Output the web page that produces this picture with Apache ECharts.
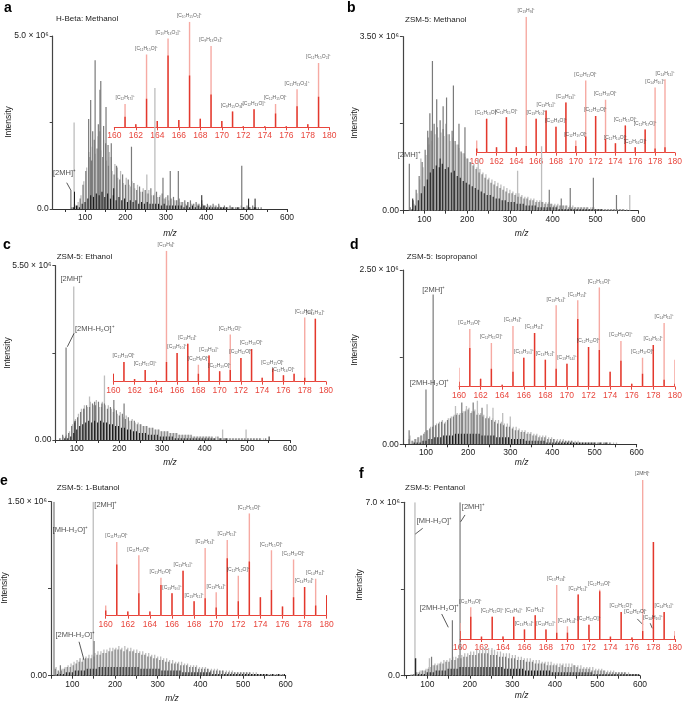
<!DOCTYPE html>
<html><head><meta charset="utf-8">
<script src="https://cdn.jsdelivr.net/npm/echarts@6/dist/echarts.min.js"></script>
<style>html,body{margin:0;padding:0;background:#fff}#c{width:685px;height:703px}</style>
</head><body><div id="c"></div>
<script>
// ---- shared m/z grids for the dense envelopes ----
const G1 = [60,67,74,81,88,95,102,109,116,123,130,137,144,151,158,165,172,179,186,193,200,207,214,221,228,235,242,249,256,263,270,277,284,291,298,305,312,319,326,333,340,347,354,361,368,375,382,389,396,403,410,417,424,431,438,445,452,459,466,473,480,487,494,501,508,515,522,529,536,543,550,557,564,571,578,585,592];
const G2 = [62,69,76,83,90,97,104,111,118,125,132,139,146,153,160,167,174,181,188,195,202,209,216,223,230,237,244,251,258,265,272,279,286,293,300,307,314,321,328,335,342,349,356,363,370,377,384,391,398,405,412,419,426,433,440,447,454,461,468,475,482,489,496,503,510,517,524,531,538,545,552,559,566,573,580,587,594];
const G3 = [65,72,79,86,93,100,107,114,121,128,135,142,149,156,163,170,177,184,191,198,205,212,219,226,233,240,247,254,261,268,275,282,289,296,303,310,317,324,331,338,345,352,359,366,373,380,387,394,401,408,415,422,429,436,443,450,457,464,471,478,485,492,499,506,513,520,527,534,541,548,555,562,569,576,583,590,597];
const insetMz = [160,161,162,163,164,165,166,167,168,169,170,171,172,173,174,175,176,177,178,179,180];
const mainTicks = [50,100,150,200,250,300,350,400,450,500,550,600];
const mainLabels = [100,200,300,400,500,600];

// ---- panel a: H-Beta Methanol (intensity in % of axis max) ----
const aMid   = [0,1,3,2,6,14,22,33,28,40, 35,45,30,38,25,30,20,24,17,20, 14,17,13,15,11,13,10,11,9,12, 8,10,7,9,6,8,6,7,5,6, 4,5,4,5,3,4,3,5,2,3, 2,3,2,3,1,2,1,2,1,1, 1,2,1,2,1,2,1,1,1,0, 0,0,0,0,0,0,0];
const aLight = [0,1,2,4,8,16,24,30,36,32, 42,34,40,28,33,22,26,18,22,15, 18,14,16,12,14,10,12,9,11,8, 9,7,8,6,7,5,6,5,5,4, 4,3,4,3,3,3,2,3,2,2, 2,2,1,2,1,1,1,1,1,1, 1,1,1,1,1,1,1,0,0,0, 0,0,0,0,0,0,0];
const aBlack = [0,1,2,1,3,4,6,8,7,9, 8,10,7,9,6,8,5,7,5,6, 4,5,4,5,3,4,3,4,3,3, 3,3,2,3,2,2,2,2,2,2, 1,2,1,2,1,2,1,2,1,1, 1,1,1,1,1,1,0,1,0,1, 0,1,0,1,0,1,0,0,0,0, 0,0,0,0,0,0,0];
const aPeaksMid   = [[65,11],[109,52],[114,63],[119,45],[125,86],[133,49],[137,69],[139,74],[146,48],[152,59],[157,37],[165,38],[178,25],[215,36],[293,18],[311,22],[331,22],[488,25]];
const aPeaksLight = [[73,50],[113,30],[160,30],[253,20],[273,70]];
const aPeaksBlack = [[74,10],[171,12],[389,8],[505,6],[521,6]];
const aInsetLight = [0,22,3,69,6,84,7,100,8,77,6,15,1,17,1,22,1,36,3,61,0];
const aInsetDark  = [0,10,3,27,6,68,7,49,8,31,6,15,1,17,1,13,1,20,3,29,0];
const aInsetLabels = [[161,'[C₁₂H₁₇]⁺'],[163,'[C₁₁H₁₅O]⁺'],[165,'[C₁₀H₁₃O₂]⁺'],[167,'[C₁₀H₁₅O₂]⁺'],[169,'[C₉H₁₃O₃]⁺'],[171,'[C₉H₁₅O₃]⁺'],[173,'[C₁₂H₁₃O]⁺'],[175,'[C₁₂H₁₅O]⁺'],[177,'[C₁₁H₁₃O₂]⁺'],[179,'[C₁₁H₁₅O₂]⁺']];
const aNotes  = [[50.5,20.4,'[2MH]⁺']];
const aArrows = [[54.7,15.2,64.6,11]];

// ---- panel b: ZSM-5 Methanol ----
const bMid   = [0,2,6,12,20,28,35,42,46,50, 48,52,47,50,44,46,40,38,34,33, 30,28,26,24,22,21,19,18,16,15, 14,13,12,11,10,10,9,8,8,7, 7,6,6,5,5,5,4,4,4,3, 3,3,3,3,2,2,2,2,2,2, 2,1,2,1,1,1,1,1,1,1, 1,1,1,0,0,0,0];
const bLight = [0,1,4,10,18,25,32,38,40,44, 42,45,43,44,40,42,38,36,33,31, 30,28,27,25,24,22,21,19,18,17, 16,15,14,13,12,11,10,10,9,8, 8,7,7,6,6,5,5,5,4,4, 4,3,3,3,3,3,2,2,2,2, 2,2,2,1,1,1,1,1,1,1, 1,1,1,1,0,0,0];
const bBlack = [0,1,3,6,10,14,18,22,24,26, 25,27,24,25,22,23,20,19,17,16, 15,14,13,12,11,10,9,9,8,7, 7,6,6,5,5,5,4,4,4,3, 3,3,3,2,2,2,2,2,2,2, 1,1,1,1,1,1,1,1,1,1, 1,1,1,1,1,0,0,0,0,0, 0,0,0,0,0,0,0];
const bPeaksMid   = [[65,27],[108,46],[113,56],[119,86],[129,64],[144,60],[152,65],[168,72],[181,50],[195,48],[392,12],[420,7],[441,13],[495,19],[549,9]];
const bPeaksLight = [[92,30],[226,30],[318,23],[374,37],[580,9]];
const bPeaksBlack = [[73,7],[137,30]];
const bInsetLight = [9,25,4,26,4,100,25,31,19,37,9,53,27,39,7,20,4,17,48,54,0];
const bInsetDark  = [3,25,4,26,4,5,25,31,19,37,5,12,27,10,7,20,4,17,3,4,0];
const bInsetLabels = [[161,'[C₁₁H₁₃O]⁺'],[163,'[C₁₁H₁₅O]⁺'],[165,'[C₁₃H₉]⁺'],[166,'[C₁₃H₁₀]⁺'],[167,'[C₁₃H₁₁]⁺'],[168,'[C₁₂H₈O]⁺'],[169,'[C₁₃H₁₃]⁺'],[170,'[C₁₂H₁₀O]⁺'],[171,'[C₁₂H₁₁O]⁺'],[172,'[C₁₂H₁₂O]⁺'],[173,'[C₁₂H₁₃O]⁺'],[174,'[C₁₂H₁₄O]⁺'],[175,'[C₁₂H₁₅O]⁺'],[176,'[C₁₂H₁₆O]⁺'],[177,'[C₁₂H₁₇O]⁺'],[178,'[C₁₄H₁₀]⁺'],[179,'[C₁₄H₁₁]⁺']];
const bNotes  = [[66,32,'[2MH]⁺']];
const bArrows = [];

// ---- panel c: ZSM-5 Ethanol ----
const cMid   = [1,3,2,4,8,10,13,16,18,20, 19,21,20,22,19,21,18,19,16,17, 14,15,12,13,11,11,9,9,8,8, 7,7,6,6,5,5,5,4,4,4, 3,3,3,3,3,2,2,2,2,2, 2,2,1,2,1,1,1,1,1,1, 1,1,1,1,1,1,1,1,0,1, 0,0,0,0,0,0,0];
const cLight = [1,2,3,5,9,12,15,18,20,19, 22,20,23,19,22,20,20,18,18,15, 16,13,14,11,12,10,10,9,8,8, 7,7,6,6,5,5,5,4,4,4, 3,3,3,3,2,2,2,2,2,2, 2,1,2,1,1,1,1,1,1,1, 1,1,1,1,1,1,1,1,1,0, 0,0,0,0,0,0,0];
const cBlack = [0,1,1,2,4,6,8,9,10,11, 10,11,10,11,10,10,9,9,8,8, 7,7,6,6,5,5,4,4,4,3, 3,3,3,2,2,2,2,2,1,1, 1,1,1,1,1,1,1,1,1,1, 1,1,0,1,0,1,0,0,0,0, 0,0,0,0,0,0,0,0,0,0, 0,0,0,0,0,0,0];
const cPeaksMid   = [[75,53],[117,18],[142,22],[159,21],[187,23],[211,21]];
const cPeaksLight = [[93,88],[130,25],[165,37],[442,6],[497,6]];
const cPeaksBlack = [[96,11],[551,2]];
const cInsetLight = [6,15,2,9,1,100,22,29,13,20,8,36,18,25,3,10,5,6,49,48,0];
const cInsetDark  = [6,15,2,9,1,15,22,29,6,20,8,9,18,25,3,10,5,6,3,48,0];
const cInsetLabels = [[161,'[C₁₁H₁₃O]⁺'],[163,'[C₁₁H₁₅O]⁺'],[165,'[C₁₃H₉]⁺'],[166,'[C₁₃H₁₀]⁺'],[167,'[C₁₃H₁₁]⁺'],[168,'[C₁₂H₈O]⁺'],[169,'[C₁₃H₁₃]⁺'],[170,'[C₁₂H₁₀O]⁺'],[171,'[C₁₂H₁₁O]⁺'],[172,'[C₁₂H₁₂O]⁺'],[173,'[C₁₂H₁₃O]⁺'],[175,'[C₁₂H₁₅O]⁺'],[176,'[C₁₂H₁₆O]⁺'],[178,'[C₁₄H₁₀]⁺'],[179,'[C₁₄H₁₁]⁺']];
const cNotes  = [[90,92,'[2MH]⁺'],[143.6,63.7,'[2MH-H₂O]⁺']];
const cArrows = [[93.7,61.2,78,53.5]];

// ---- panel d: ZSM-5 Isopropanol ----
const dMid   = [3,2,3,4,5,6,8,9,10,11, 12,13,12,14,15,16,17,17,18,19, 20,18,19,17,17,16,15,15,14,13, 12,12,11,10,10,9,8,8,7,7, 6,6,5,5,4,4,4,3,3,3, 2,2,2,2,2,2,1,1,1,1, 1,1,1,1,1,1,1,1,1,0, 0,0,0,0,0,0,0];
const dLight = [5,2,3,4,5,7,8,10,11,12, 13,14,13,15,16,17,18,18,19,20, 21,19,20,18,18,17,16,16,15,14, 14,13,12,12,11,10,10,9,8,8, 7,7,6,6,5,5,5,4,4,3, 3,3,3,2,2,2,2,2,1,1, 1,1,1,1,1,1,1,1,1,1, 1,0,0,0,0,0,0];
const dBlack = [0,1,1,1,2,2,3,3,4,4, 4,5,5,5,5,6,6,6,6,6, 6,6,6,6,5,5,5,5,5,4, 4,4,4,4,3,3,3,3,3,2, 2,2,2,2,2,2,1,1,1,1, 1,1,1,1,1,1,1,1,1,1, 1,1,1,0,1,0,1,0,0,0, 0,0,0,0,0,0,0];
const dPeaksMid   = [[60,8],[100,31.5],[117,86],[185,24],[212,24],[233,21]];
const dPeaksLight = [[170,22],[196,22],[222,25],[245,23],[259,21],[282,18],[300,16]];
const dPeaksBlack = [];
const dInsetLight = [19,58,8,44,2,61,29,54,27,82,23,87,40,100,15,46,3,29,42,64,27];
const dInsetDark  = [5,39,8,18,2,15,29,54,27,18,23,68,40,37,15,26,3,13,42,7,3];
const dInsetLabels = [[161,'[C₁₁H₁₃O]⁺'],[163,'[C₁₁H₁₅O]⁺'],[165,'[C₁₃H₉]⁺'],[166,'[C₁₃H₁₀]⁺'],[167,'[C₁₃H₁₁]⁺'],[168,'[C₁₃H₁₂]⁺'],[169,'[C₁₃H₁₃]⁺'],[170,'[C₁₃H₁₄]⁺'],[171,'[C₁₃H₁₅]⁺'],[172,'[C₁₂H₁₂O]⁺'],[173,'[C₁₂H₁₃O]⁺'],[175,'[C₁₂H₁₅O]⁺'],[177,'[C₁₂H₁₇O]⁺'],[178,'[C₁₄H₁₀]⁺'],[179,'[C₁₄H₁₁]⁺']];
const dNotes  = [[119.7,88.1,'[2MH]⁺'],[109.5,35,'[2MH-H₂O]⁺']];
const dArrows = [];

// ---- panel e: ZSM-5 1-Butanol ----
const eMid   = [4,3,3,4,5,5,6,7,8,8, 9,10,10,11,12,12,13,13,14,14, 15,15,15,14,15,14,14,13,13,12, 12,11,11,10,10,9,9,8,8,7, 7,7,6,6,6,5,5,5,4,4, 4,4,3,3,3,3,3,2,2,2, 2,2,2,2,2,2,1,1,1,1, 1,1,1,1,1,1,1];
const eLight = [5,2,4,5,6,7,8,9,10,10, 11,12,12,13,14,14,15,15,16,16, 16,17,16,17,16,16,15,15,14,14, 13,13,12,12,11,11,10,10,9,9, 8,8,8,7,7,6,6,6,5,5, 5,4,4,4,4,3,3,3,3,3, 2,2,2,2,2,2,2,2,1,1, 1,1,1,1,1,1,1];
const eBlack = [1,1,1,2,2,2,3,3,3,3, 4,4,4,4,5,5,5,5,5,5, 5,5,5,5,5,5,5,5,4,4, 4,4,4,4,4,3,3,3,3,3, 3,3,2,2,2,2,2,2,2,2, 2,2,1,1,1,1,1,1,1,1, 1,1,1,1,1,1,1,1,1,1, 1,0,1,0,1,0,1];
const ePeaksMid   = [[57,100],[72,6],[131,10],[151,20]];
const ePeaksLight = [[118,10],[149,100]];
const ePeaksBlack = [];
const eInsetLight = [10,72,4,59,4,37,22,44,14,66,23,74,39,100,18,64,9,55,28,36,20];
const eInsetDark  = [5,50,4,22,4,30,22,44,14,17,8,56,14,53,18,25,9,18,28,10,20];
const eInsetLabels = [[161,'[C₁₁H₁₃O]⁺'],[163,'[C₁₁H₁₅O]⁺'],[165,'[C₁₁H₁₇O]⁺'],[166,'[C₁₃H₁₀]⁺'],[167,'[C₁₃H₁₁]⁺'],[168,'[C₁₃H₁₂]⁺'],[169,'[C₁₃H₁₃]⁺'],[170,'[C₁₃H₁₄]⁺'],[171,'[C₁₃H₁₅]⁺'],[172,'[C₁₂H₁₂O]⁺'],[173,'[C₁₂H₁₃O]⁺'],[175,'[C₁₂H₁₅O]⁺'],[177,'[C₁₂H₁₇O]⁺'],[178,'[C₁₄H₁₀]⁺'],[179,'[C₁₄H₁₁]⁺']];
const eNotes  = [[96.5,83.7,'[MH-H₂O]⁺'],[179.7,97.7,'[2MH]⁺'],[108,23,'[2MH-H₂O]⁺']];
const eArrows = [[115.7,19.5,127.4,9]];

// ---- panel f: ZSM-5 Pentanol ----
const fMid   = [0,1,2,2,3,3,4,5,6,6, 7,7,8,8,9,9,10,10,11,11, 12,12,12,13,13,13,13,12,12,12, 11,11,11,10,10,10,9,9,9,8, 8,8,7,7,7,7,6,6,6,6, 5,6,5,5,5,6,5,4,4,4, 4,3,3,3,3,3,2,2,2,2, 2,2,2,1,1,1,1];
const fLight = [1,1,2,3,3,4,5,6,7,7, 8,9,9,10,11,11,12,12,13,13, 14,14,15,15,16,15,16,15,15,14, 14,13,13,13,12,12,11,11,10,10, 10,9,9,9,8,8,8,8,7,7, 7,7,7,7,7,6,6,6,5,5, 5,5,4,4,4,3,3,3,3,2, 2,2,2,2,1,1,1];
const fBlack = [0,1,1,1,1,2,2,2,3,3, 3,3,4,4,4,4,5,5,5,5, 5,5,5,5,5,5,5,5,5,5, 5,4,4,4,4,4,4,4,3,3, 3,3,3,3,3,3,3,2,2,2, 2,2,2,2,2,2,2,2,2,2, 2,1,1,1,1,1,1,1,1,1, 1,1,1,1,1,1,1];
const fPeaksMid   = [[73,10],[110,11],[159,32],[177,100]];
const fPeaksLight = [[71,100],[105,10],[237,17],[252,16]];
const fPeaksBlack = [[72,10]];
const fInsetLight = [10,20,1.5,14,1.5,14,6,15,6,34,8,28,9,31,1.5,17,1,100,61,17,5];
const fInsetDark  = [5,14,1.5,14,1.5,14,6,15,6,4,4,28,9,30,1.5,17,1,5,61,17,2];
const fInsetLabels = [[161,'[C₁₁H₁₃O]⁺'],[163,'[C₁₁H₁₅O]⁺'],[165,'[C₁₃H₉]⁺'],[166,'[C₁₃H₁₀]⁺'],[167,'[C₁₃H₁₁]⁺'],[168,'[C₁₃H₁₂]⁺'],[169,'[C₁₃H₁₃]⁺'],[170,'[C₁₃H₁₄]⁺'],[171,'[C₁₃H₁₅]⁺'],[172,'[C₁₂H₁₂O]⁺'],[173,'[C₁₂H₁₃O]⁺'],[175,'[C₁₂H₁₅O]⁺'],[177,'[2MH]⁺'],[179,'[C₁₄H₁₁]⁺']];
const fInsetNotes  = [[176.4,17.2,'[C₁₂H₁₇O]⁺'],[178.0,13,'[C₁₄H₁₀]⁺']];
const fInsetArrows = [[176.5,12.6,177,9.2],[177.7,9.9,177.9,6.7]];
const fNotes  = [[118,89.2,'[MH-H₂O]⁺'],[209.3,97.1,'[2MH]⁺'],[129.9,38.9,'[2MH-H₂O]⁺']];
const fArrows = [[89.2,85,71.8,81.7],[188.6,92.7,178.5,88.8],[133.8,35.6,149.4,27.9]];

const titles = ['H-Beta: Methanol','ZSM-5: Methanol','ZSM-5: Ethanol','ZSM-5: Isopropanol','ZSM-5: 1-Butanol','ZSM-5: Pentanol'];
const yTopLabels = ['5.0 × 10⁶','3.50 × 10⁶','5.50 × 10⁶','2.50 × 10⁶','1.50 × 10⁶','7.0 × 10⁶'];
const yZeroLabels = ['0.0','0.00','0.00','0.00','0.00','0.0'];
const letters = ['a','b','c','d','e','f'];

// ---- layout (pixels) ----
const FONT = '"Liberation Sans", Arial, sans-serif';
const layout = [
  {main:{left:52.7,top:36,width:234.3,height:173,min:20}, inset:{left:114.3,top:21.7,width:215,height:105.6},
   letter:[4,8], title:[56,18.5], inten:[8.5,122], mz:[170,234]},
  {main:{left:402.9,top:36.7,width:235.4,height:174,min:50}, inset:{left:476.7,top:16.7,width:202.6,height:136},
   letter:[347,8], title:[405,19.5], inten:[355,123], mz:[521.7,234]},
  {main:{left:55.4,top:265.7,width:234.6,height:174.3,min:50}, inset:{left:113.3,top:250.7,width:212.7,height:131},
   letter:[3,245], title:[56.7,256.5], inten:[7.5,353], mz:[170,463]},
  {main:{left:402.8,top:270,width:233.9,height:174.3,min:45}, inset:{left:459,top:287.3,width:221,height:99.4},
   letter:[350,245], title:[406.7,257], inten:[355,350], mz:[521.7,463]},
  {main:{left:51,top:501.7,width:234.7,height:174,min:50}, inset:{left:105.7,top:513.3,width:221,height:102.4},
   letter:[0,481], title:[56.7,488], inten:[4.5,588], mz:[172,699]},
  {main:{left:403.9,top:502.3,width:236.1,height:173.4,min:45}, inset:{left:460,top:480,width:220,height:159},
   letter:[359,474], title:[405,488], inten:[360,585], mz:[521.7,696]}
];

const panelData = [
  {mid:aMid,light:aLight,black:aBlack,pm:aPeaksMid,pl:aPeaksLight,pb:aPeaksBlack,il:aInsetLight,id:aInsetDark,lab:aInsetLabels,notes:aNotes,arrows:aArrows,inotes:[],iarrows:[]},
  {mid:bMid,light:bLight,black:bBlack,pm:bPeaksMid,pl:bPeaksLight,pb:bPeaksBlack,il:bInsetLight,id:bInsetDark,lab:bInsetLabels,notes:bNotes,arrows:bArrows,inotes:[],iarrows:[]},
  {mid:cMid,light:cLight,black:cBlack,pm:cPeaksMid,pl:cPeaksLight,pb:cPeaksBlack,il:cInsetLight,id:cInsetDark,lab:cInsetLabels,notes:cNotes,arrows:cArrows,inotes:[],iarrows:[]},
  {mid:dMid,light:dLight,black:dBlack,pm:dPeaksMid,pl:dPeaksLight,pb:dPeaksBlack,il:dInsetLight,id:dInsetDark,lab:dInsetLabels,notes:dNotes,arrows:dArrows,inotes:[],iarrows:[]},
  {mid:eMid,light:eLight,black:eBlack,pm:ePeaksMid,pl:ePeaksLight,pb:ePeaksBlack,il:eInsetLight,id:eInsetDark,lab:eInsetLabels,notes:eNotes,arrows:eArrows,inotes:[],iarrows:[]},
  {mid:fMid,light:fLight,black:fBlack,pm:fPeaksMid,pl:fPeaksLight,pb:fPeaksBlack,il:fInsetLight,id:fInsetDark,lab:fInsetLabels,notes:fNotes,arrows:fArrows,inotes:fInsetNotes,iarrows:fInsetArrows}
];

const C_LIGHT = '#bdbdbd', C_MID = '#7a7a7a', C_BLACK = '#1c1c1c';
const C_PINK = '#f6aaa3', C_RED = '#e3382d', C_AX = '#e8453c';

const zip = (xs, ys) => xs.map((x, i) => [x, ys[i]]);

function spikes(data, ai, color, w, z) {
  return {
    type: 'custom', xAxisIndex: ai, yAxisIndex: ai, data: data, z: z, silent: true, clip: true,
    renderItem: function (p, api) {
      const a = api.coord([api.value(0), 0]);
      const b = api.coord([api.value(0), api.value(1)]);
      return {type: 'line', shape: {x1: a[0], y1: a[1], x2: b[0], y2: b[1]}, style: {stroke: color, lineWidth: w}};
    }
  };
}
function notes(list, arrows, ai, z, fs) {
  return {
    type: 'scatter', xAxisIndex: ai, yAxisIndex: ai, z: z, silent: true, symbolSize: 1,
    itemStyle: {color: 'rgba(0,0,0,0)'},
    data: list.map(n => ({value: [n[0], n[1]], name: n[2]})),
    label: {show: true, position: [0, 0], align: 'center', verticalAlign: 'middle', formatter: '{b}',
            fontSize: fs, color: '#222', fontFamily: FONT},
    labelLayout: {hideOverlap: false},
    markLine: {silent: true, symbol: ['none', 'arrow'], symbolSize: [0, 4], animation: false,
      lineStyle: {color: '#111', width: 0.7, type: 'solid'}, label: {show: false},
      data: arrows.map(a => [{coord: [a[0], a[1]]}, {coord: [a[2], a[3]]}])}
  };
}

const grids = [], xAxes = [], yAxes = [], series = [], graphics = [];
layout.forEach((L, k) => {
  const D = panelData[k];
  const mi = 2 * k, ii = 2 * k + 1;
  grids.push({left: L.main.left, top: L.main.top, width: L.main.width, height: L.main.height});
  grids.push({left: L.inset.left, top: L.inset.top, width: L.inset.width, height: L.inset.height});
  xAxes.push({gridIndex: mi, type: 'value', min: L.main.min, max: 600, splitLine: {show: false},
    axisLine: {lineStyle: {color: '#333', width: 1}},
    axisTick: {show: true, length: 3, customValues: mainTicks, lineStyle: {color: '#333'}},
    axisLabel: {customValues: mainLabels, fontSize: 8.5, color: '#222', margin: 4, fontFamily: FONT}});
  yAxes.push({gridIndex: mi, type: 'value', min: 0, max: 100, interval: 50, splitLine: {show: false},
    axisLine: {show: true, lineStyle: {color: '#444', width: 1.2}},
    axisTick: {show: true, length: 3, lineStyle: {color: '#444'}},
    axisLabel: {fontSize: 8.5, color: '#222', margin: 4, fontFamily: FONT,
      formatter: v => v === 100 ? yTopLabels[k] : (v === 0 ? yZeroLabels[k] : '')}});
  xAxes.push({gridIndex: ii, type: 'value', min: 160, max: 180, interval: 2, splitLine: {show: false},
    axisLine: {lineStyle: {color: C_AX, width: 1}},
    axisTick: {show: true, length: 3, lineStyle: {color: C_AX}},
    axisLabel: {fontSize: 8.5, color: C_AX, margin: 4, fontFamily: FONT}});
  yAxes.push({gridIndex: ii, type: 'value', min: 0, max: 100, show: false});

  series.push(spikes(zip(G2, D.light), mi, C_LIGHT, 1.3, 2));
  series.push(spikes(D.pl, mi, C_LIGHT, 1.3, 2));
  series.push(spikes(zip(G1, D.mid), mi, C_MID, 1.2, 3));
  series.push(spikes(D.pm, mi, C_MID, 1.2, 3));
  series.push(spikes(zip(G3, D.black), mi, C_BLACK, 1.1, 4));
  series.push(spikes(D.pb, mi, C_BLACK, 1, 4));
  series.push(notes(D.notes, D.arrows, mi, 5, 7.5));

  series.push(spikes(zip(insetMz, D.il), ii, C_PINK, 1.4, 10));
  series.push(spikes(zip(insetMz, D.id), ii, C_RED, 1.4, 11));
  const peakH = {};
  insetMz.forEach((m, i) => { peakH[m] = D.il[i]; });
  series.push({
    type: 'scatter', xAxisIndex: ii, yAxisIndex: ii, z: 12, silent: true, symbolSize: 1,
    itemStyle: {color: 'rgba(0,0,0,0)'},
    data: D.lab.map(l => ({value: [l[0], peakH[l[0]]], name: l[1]})),
    label: {show: true, position: 'top', distance: 3, formatter: '{b}', fontSize: 5, color: '#333', fontFamily: FONT},
    labelLayout: {hideOverlap: false}
  });
  if (D.inotes.length) series.push(notes(D.inotes, D.iarrows, ii, 12, 5));

  graphics.push({type: 'text', x: L.letter[0], y: L.letter[1], style: {text: letters[k], font: 'bold 14px ' + FONT, fill: '#000', textVerticalAlign: 'middle'}});
  graphics.push({type: 'text', x: L.title[0], y: L.title[1], style: {text: titles[k], font: '8px ' + FONT, fill: '#222', textVerticalAlign: 'middle'}});
  graphics.push({type: 'text', x: L.inten[0], y: L.inten[1], rotation: Math.PI / 2, style: {text: 'Intensity', font: '8.5px ' + FONT, fill: '#222', textAlign: 'center', textVerticalAlign: 'middle'}});
  graphics.push({type: 'text', x: L.mz[0], y: L.mz[1], style: {text: 'm/z', font: 'italic 8.5px ' + FONT, fill: '#222', textAlign: 'center', textVerticalAlign: 'middle'}});
});

const chart = echarts.init(document.getElementById('c'), null, {renderer: 'canvas'});
chart.setOption({animation: false, backgroundColor: '#fff', grid: grids, xAxis: xAxes, yAxis: yAxes, series: series, graphic: graphics});
</script></body></html>
